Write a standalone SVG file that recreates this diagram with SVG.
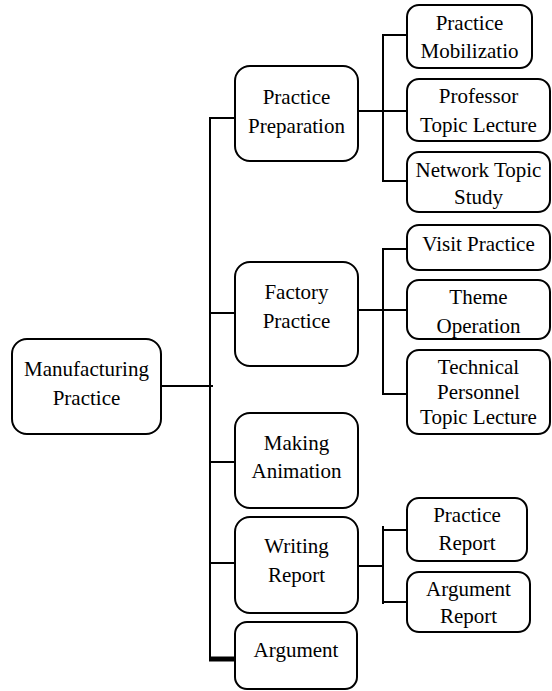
<svg xmlns="http://www.w3.org/2000/svg" width="552" height="691" viewBox="0 0 552 691">
<style>
.box{fill:#fff;stroke:#000;stroke-width:2}
.t{font-family:"Liberation Serif","Times New Roman",serif;font-size:21px;fill:#000;text-anchor:middle}
.ln{stroke:#000;stroke-width:2;fill:none}
</style>
<rect width="552" height="691" fill="#fff"/>
<g id="connectors">
<path class="ln" d="M161 386H213"/>
<path class="ln" d="M210 117V661"/>
<path class="ln" d="M209 118H235M210 313H235M210 462H235M210 563H235"/>
<path d="M209 659H235" stroke="#000" stroke-width="5"/>
<path class="ln" d="M358 111H407M383 34V182M382 35H407M382 181H407"/>
<path class="ln" d="M358 310H407M383 248V395M382 249H407M382 394H407"/>
<path class="ln" d="M358 566H383M383 526V604M382 530H407M382 602H407"/>
</g>
<g id="manufacturing-practice"><rect class="box" x="12" y="339" width="149" height="95" rx="15"/><text class="t" x="86.5" y="376">Manufacturing</text><text class="t" x="86.5" y="405">Practice</text></g>
<g id="practice-preparation"><rect class="box" x="235" y="66" width="123" height="95" rx="15"/><text class="t" x="296.5" y="104">Practice</text><text class="t" x="296.5" y="133">Preparation</text></g>
<g id="factory-practice"><rect class="box" x="235" y="262" width="123" height="104" rx="15"/><text class="t" x="296.5" y="299">Factory</text><text class="t" x="296.5" y="328">Practice</text></g>
<g id="making-animation"><rect class="box" x="235" y="413" width="123" height="95" rx="15"/><text class="t" x="296.5" y="450">Making</text><text class="t" x="296.5" y="478">Animation</text></g>
<g id="writing-report"><rect class="box" x="235" y="517" width="123" height="96" rx="15"/><text class="t" x="296.5" y="553">Writing</text><text class="t" x="296.5" y="582">Report</text></g>
<g id="argument"><rect class="box" x="235" y="622" width="122" height="67" rx="12"/><text class="t" x="296" y="657">Argument</text></g>
<g id="practice-mobilization"><rect class="box" x="407" y="5" width="125" height="63" rx="12"/><text class="t" x="469.5" y="30">Practice</text><text class="t" x="469.5" y="58">Mobilizatio</text></g>
<g id="professor-topic-lecture"><rect class="box" x="407" y="79" width="143" height="62" rx="12"/><text class="t" x="478.5" y="103">Professor</text><text class="t" x="478.5" y="132">Topic Lecture</text></g>
<g id="network-topic-study"><rect class="box" x="407" y="152" width="143" height="60" rx="12"/><text class="t" x="478.5" y="177">Network Topic</text><text class="t" x="478.5" y="204">Study</text></g>
<g id="visit-practice"><rect class="box" x="407" y="225" width="143" height="45" rx="12"/><text class="t" x="478.5" y="251">Visit Practice</text></g>
<g id="theme-operation"><rect class="box" x="407" y="280" width="143" height="59" rx="12"/><text class="t" x="478.5" y="304">Theme</text><text class="t" x="478.5" y="333">Operation</text></g>
<g id="technical-personnel"><rect class="box" x="407" y="350" width="143" height="84" rx="12"/><text class="t" x="478.5" y="374">Technical</text><text class="t" x="478.5" y="399">Personnel</text><text class="t" x="478.5" y="424">Topic Lecture</text></g>
<g id="practice-report"><rect class="box" x="407" y="498" width="120" height="63" rx="12"/><text class="t" x="467" y="522">Practice</text><text class="t" x="467" y="550">Report</text></g>
<g id="argument-report"><rect class="box" x="407" y="572" width="123" height="60" rx="12"/><text class="t" x="468.5" y="596">Argument</text><text class="t" x="468.5" y="623">Report</text></g>
</svg>
